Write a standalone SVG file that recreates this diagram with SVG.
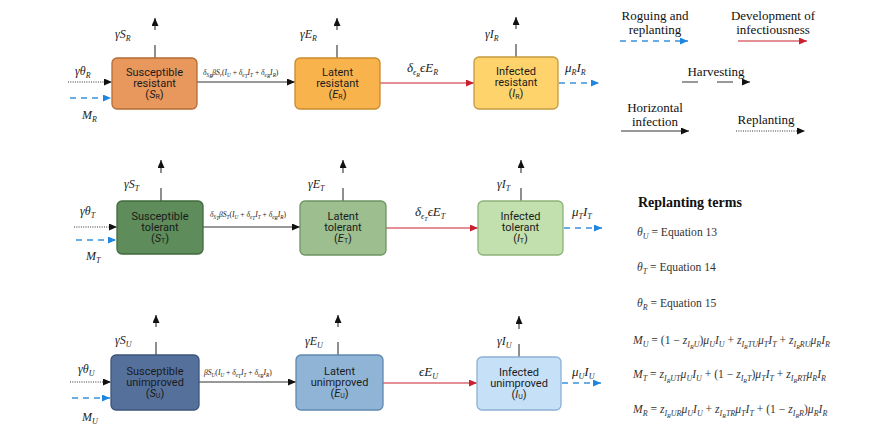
<svg xmlns="http://www.w3.org/2000/svg" width="885" height="432" viewBox="0 0 885 432">
<defs>
<style>
.box{stroke-width:1.3}
.bt{font-family:Roboto,"Liberation Sans",sans-serif;font-size:11px;fill:#1b1b1b;text-anchor:middle}
.m{font-family:"Liberation Serif",serif;fill:#222}
.i{font-style:italic}
.ml{font-size:12px}
.mb{font-size:13px}
.sm{font-size:8px}
.tiny{font-size:7.6px}
.t5{font-size:5.2px}
.lg{font-family:"Liberation Serif",serif;font-size:13px;fill:#111;text-anchor:middle}
.eq{font-family:"Liberation Serif",serif;font-size:11.6px;fill:#333}
.s8{font-size:8px}
.s6{font-size:6px}
.harv{stroke:#333;stroke-width:1.1;fill:none;stroke-dasharray:13 15 100;marker-end:url(#ak)}
.inf{stroke:#333;stroke-width:1.1;fill:none;marker-end:url(#ak)}
.dot{stroke:#333;stroke-width:1.1;fill:none;stroke-dasharray:1 1.3;marker-end:url(#ak)}
.blue{stroke:#3a93dd;stroke-width:1.3;fill:none;stroke-dasharray:6 5;marker-end:url(#ab)}
.red{stroke:#c8202c;stroke-width:1.2;fill:none;marker-end:url(#ar)}
</style>
<marker id="ak" markerUnits="userSpaceOnUse" markerWidth="9" markerHeight="8" refX="8" refY="3.5" orient="auto"><path d="M0,0 L8,3.5 L0,7 z" fill="#111"/></marker>
<marker id="ab" markerUnits="userSpaceOnUse" markerWidth="9" markerHeight="8" refX="8" refY="3.5" orient="auto"><path d="M0,0 L8,3.5 L0,7 z" fill="#1f86e0"/></marker>
<marker id="ar" markerUnits="userSpaceOnUse" markerWidth="9" markerHeight="8" refX="8" refY="3.5" orient="auto"><path d="M0,0 L8,3.5 L0,7 z" fill="#c8202c"/></marker>
</defs>
<rect width="885" height="432" fill="#fff"/>

<g id="connectors">
<line class="harv" x1="155" y1="58" x2="155" y2="18"/>
<line class="harv" x1="337" y1="58" x2="337" y2="18"/>
<line class="harv" x1="516" y1="57" x2="516" y2="17"/>
<line class="harv" x1="161" y1="201" x2="161" y2="160"/>
<line class="harv" x1="343" y1="201" x2="343" y2="160"/>
<line class="harv" x1="521" y1="201" x2="521" y2="160"/>
<line class="harv" x1="156" y1="355" x2="156" y2="315"/>
<line class="harv" x1="338" y1="355" x2="338" y2="315"/>
<line class="harv" x1="519" y1="357" x2="519" y2="316"/>
<line class="dot" x1="68" y1="82" x2="112" y2="82"/>
<line class="dot" x1="74" y1="227" x2="117" y2="227"/>
<line class="dot" x1="70" y1="382" x2="111" y2="382"/>
<line class="blue" x1="70" y1="98" x2="111" y2="98"/>
<line class="blue" x1="76" y1="240" x2="116" y2="240"/>
<line class="blue" x1="72" y1="398" x2="110" y2="398"/>
<line class="inf" x1="197" y1="82" x2="295" y2="82"/>
<line class="inf" x1="203" y1="227" x2="300" y2="227"/>
<line class="inf" x1="199" y1="382" x2="296" y2="382"/>
<line class="red" x1="380" y1="83" x2="474" y2="83"/>
<line class="red" x1="386" y1="228" x2="478" y2="228"/>
<line class="red" x1="383" y1="383" x2="477" y2="383"/>
<line class="blue" x1="559" y1="83" x2="599" y2="83"/>
<line class="blue" x1="564" y1="228" x2="602" y2="228"/>
<line class="blue" x1="562" y1="383" x2="601" y2="383"/>
</g>

<g id="labels" class="m">
<text class="ml" x="115" y="38"><tspan class="i">γS</tspan><tspan class="i sm" dy="3">R</tspan></text>
<text class="ml" x="300" y="38"><tspan class="i">γE</tspan><tspan class="i sm" dy="3">R</tspan></text>
<text class="ml" x="485" y="38"><tspan class="i">γI</tspan><tspan class="i sm" dy="3">R</tspan></text>
<text class="ml" x="75" y="75"><tspan class="i">γθ</tspan><tspan class="i sm" dy="3">R</tspan></text>
<text class="ml" x="82" y="119"><tspan class="i">M</tspan><tspan class="i sm" dy="3">R</tspan></text>
<text class="tiny" x="203" y="75"><tspan class="i">δ</tspan><tspan class="i t5" dy="2">S</tspan><tspan class="i t5" dy="1">R</tspan><tspan class="i" dy="-3">βS</tspan><tspan class="i t5" dy="2">r</tspan><tspan dy="-2">(</tspan><tspan class="i">I</tspan><tspan class="i t5" dy="2">U</tspan><tspan dy="-2"> + </tspan><tspan class="i">δ</tspan><tspan class="i t5" dy="2">e</tspan><tspan class="i t5" dy="1">T</tspan><tspan class="i" dy="-3">I</tspan><tspan class="i t5" dy="2">T</tspan><tspan dy="-2"> + </tspan><tspan class="i">δ</tspan><tspan class="i t5" dy="2">e</tspan><tspan class="i t5" dy="1">R</tspan><tspan class="i" dy="-3">I</tspan><tspan class="i t5" dy="2">R</tspan><tspan dy="-2">)</tspan></text>
<text class="mb" x="407" y="72"><tspan class="i">δ</tspan><tspan class="i sm" dy="3">ϵ</tspan><tspan class="i" font-size="6" dy="2">R</tspan><tspan class="i" dy="-5">ϵE</tspan><tspan class="i sm" dy="3">R</tspan></text>
<text class="mb" x="565" y="72"><tspan class="i">μ</tspan><tspan class="i sm" dy="3">R</tspan><tspan class="i" dy="-3">I</tspan><tspan class="i sm" dy="3">R</tspan></text>

<text class="ml" x="124" y="188"><tspan class="i">γS</tspan><tspan class="i sm" dy="3">T</tspan></text>
<text class="ml" x="308" y="188"><tspan class="i">γE</tspan><tspan class="i sm" dy="3">T</tspan></text>
<text class="ml" x="497" y="188"><tspan class="i">γI</tspan><tspan class="i sm" dy="3">T</tspan></text>
<text class="ml" x="80" y="215"><tspan class="i">γθ</tspan><tspan class="i sm" dy="3">T</tspan></text>
<text class="ml" x="86" y="260"><tspan class="i">M</tspan><tspan class="i sm" dy="3">T</tspan></text>
<text class="tiny" x="210" y="217"><tspan class="i">δ</tspan><tspan class="i t5" dy="2">S</tspan><tspan class="i t5" dy="1">T</tspan><tspan class="i" dy="-3">βS</tspan><tspan class="i t5" dy="2">T</tspan><tspan dy="-2">(</tspan><tspan class="i">I</tspan><tspan class="i t5" dy="2">U</tspan><tspan dy="-2"> + </tspan><tspan class="i">δ</tspan><tspan class="i t5" dy="2">e</tspan><tspan class="i t5" dy="1">T</tspan><tspan class="i" dy="-3">I</tspan><tspan class="i t5" dy="2">T</tspan><tspan dy="-2"> + </tspan><tspan class="i">δ</tspan><tspan class="i t5" dy="2">e</tspan><tspan class="i t5" dy="1">R</tspan><tspan class="i" dy="-3">I</tspan><tspan class="i t5" dy="2">R</tspan><tspan dy="-2">)</tspan></text>
<text class="mb" x="415" y="216"><tspan class="i">δ</tspan><tspan class="i sm" dy="3">ϵ</tspan><tspan class="i" font-size="6" dy="2">T</tspan><tspan class="i" dy="-5">ϵE</tspan><tspan class="i sm" dy="3">T</tspan></text>
<text class="mb" x="572" y="216"><tspan class="i">μ</tspan><tspan class="i sm" dy="3">T</tspan><tspan class="i" dy="-3">I</tspan><tspan class="i sm" dy="3">T</tspan></text>

<text class="ml" x="115" y="344"><tspan class="i">γS</tspan><tspan class="i sm" dy="3">U</tspan></text>
<text class="ml" x="305" y="345"><tspan class="i">γE</tspan><tspan class="i sm" dy="3">U</tspan></text>
<text class="ml" x="497" y="345"><tspan class="i">γI</tspan><tspan class="i sm" dy="3">U</tspan></text>
<text class="ml" x="78" y="373"><tspan class="i">γθ</tspan><tspan class="i sm" dy="3">U</tspan></text>
<text class="ml" x="82" y="421"><tspan class="i">M</tspan><tspan class="i sm" dy="3">U</tspan></text>
<text class="tiny" x="204" y="375"><tspan class="i">βS</tspan><tspan class="i t5" dy="2">U</tspan><tspan dy="-2">(</tspan><tspan class="i">I</tspan><tspan class="i t5" dy="2">U</tspan><tspan dy="-2"> + </tspan><tspan class="i">δ</tspan><tspan class="i t5" dy="2">e</tspan><tspan class="i t5" dy="1">T</tspan><tspan class="i" dy="-3">I</tspan><tspan class="i t5" dy="2">T</tspan><tspan dy="-2"> + </tspan><tspan class="i">δ</tspan><tspan class="i t5" dy="2">e</tspan><tspan class="i t5" dy="1">R</tspan><tspan class="i" dy="-3">I</tspan><tspan class="i t5" dy="2">R</tspan><tspan dy="-2">)</tspan></text>
<text class="mb" x="419" y="376"><tspan class="i">ϵE</tspan><tspan class="i sm" dy="3">U</tspan></text>
<text class="mb" x="572" y="376"><tspan class="i">μ</tspan><tspan class="i sm" dy="3">U</tspan><tspan class="i" dy="-3">I</tspan><tspan class="i sm" dy="3">U</tspan></text>
</g>

<g id="S_R"><rect class="box" x="112" y="58" width="85" height="51" rx="5" fill="#e8975d" stroke="#b56c36"/>
<text class="bt" x="154.5" y="75.5">Susceptible<tspan x="154.5" dy="11">resistant</tspan><tspan x="154.5" dy="11">(<tspan font-style="italic">S</tspan><tspan font-size="7" dy="1.5">R</tspan><tspan dy="-1.5">)</tspan></tspan></text></g>
<g id="E_R"><rect class="box" x="295" y="58" width="85" height="51" rx="5" fill="#f8b34c" stroke="#c98a2a"/>
<text class="bt" x="337.5" y="75.5">Latent<tspan x="337.5" dy="11">resistant</tspan><tspan x="337.5" dy="11">(<tspan font-style="italic">E</tspan><tspan font-size="7" dy="1.5">R</tspan><tspan dy="-1.5">)</tspan></tspan></text></g>
<g id="I_R"><rect class="box" x="474" y="57" width="84" height="52" rx="5" fill="#fed36c" stroke="#c49a3e"/>
<text class="bt" x="516" y="75">Infected<tspan x="516" dy="11">resistant</tspan><tspan x="516" dy="11">(<tspan font-style="italic">I</tspan><tspan font-size="7" dy="1.5">R</tspan><tspan dy="-1.5">)</tspan></tspan></text></g>

<g id="S_T"><rect class="box" x="117" y="201" width="86" height="53" rx="5" fill="#5e8c5a" stroke="#3f6a3d"/>
<text class="bt" x="160" y="219.5">Susceptible<tspan x="160" dy="11">tolerant</tspan><tspan x="160" dy="11">(<tspan font-style="italic">S</tspan><tspan font-size="7" dy="1.5">T</tspan><tspan dy="-1.5">)</tspan></tspan></text></g>
<g id="E_T"><rect class="box" x="300" y="201" width="86" height="54" rx="5" fill="#9dbe8f" stroke="#6e9464"/>
<text class="bt" x="343" y="219.5">Latent<tspan x="343" dy="11">tolerant</tspan><tspan x="343" dy="11">(<tspan font-style="italic">E</tspan><tspan font-size="7" dy="1.5">T</tspan><tspan dy="-1.5">)</tspan></tspan></text></g>
<g id="I_T"><rect class="box" x="478" y="201" width="85" height="54" rx="5" fill="#c2dfae" stroke="#8db27a"/>
<text class="bt" x="520.5" y="219.5">Infected<tspan x="520.5" dy="11">tolerant</tspan><tspan x="520.5" dy="11">(<tspan font-style="italic">I</tspan><tspan font-size="7" dy="1.5">T</tspan><tspan dy="-1.5">)</tspan></tspan></text></g>

<g id="S_U"><rect class="box" x="111" y="355" width="88" height="55" rx="5" fill="#55719b" stroke="#3b5479"/>
<text class="bt" x="155" y="374.5">Susceptible<tspan x="155" dy="11">unimproved</tspan><tspan x="155" dy="11">(<tspan font-style="italic">S</tspan><tspan font-size="7" dy="1.5">U</tspan><tspan dy="-1.5">)</tspan></tspan></text></g>
<g id="E_U"><rect class="box" x="296" y="355" width="87" height="55" rx="5" fill="#8fb4d6" stroke="#5f89b0"/>
<text class="bt" x="339.5" y="374.5">Latent<tspan x="339.5" dy="11">unimproved</tspan><tspan x="339.5" dy="11">(<tspan font-style="italic">E</tspan><tspan font-size="7" dy="1.5">U</tspan><tspan dy="-1.5">)</tspan></tspan></text></g>
<g id="I_U"><rect class="box" x="477" y="357" width="84" height="53" rx="5" fill="#c6e0f7" stroke="#8db0d3"/>
<text class="bt" x="519" y="375.5">Infected<tspan x="519" dy="11">unimproved</tspan><tspan x="519" dy="11">(<tspan font-style="italic">I</tspan><tspan font-size="7" dy="1.5">U</tspan><tspan dy="-1.5">)</tspan></tspan></text></g>

<g id="legend">
<text class="lg" x="655" y="20">Roguing and<tspan x="655" dy="14">replanting</tspan></text>
<line class="blue" x1="620" y1="41" x2="688" y2="41"/>
<text class="lg" x="773" y="20">Development of<tspan x="773" dy="14">infectiousness</tspan></text>
<line class="red" x1="738" y1="41" x2="807" y2="41"/>
<text class="lg" x="716" y="76">Harvesting</text>
<line x1="682" y1="82" x2="750" y2="82" stroke="#333" stroke-width="1.1" stroke-dasharray="16 19 16 10 30" marker-end="url(#ak)"/>
<text class="lg" x="655" y="112">Horizontal<tspan x="655" dy="14">infection</tspan></text>
<line class="inf" x1="621" y1="131" x2="689" y2="131"/>
<text class="lg" x="766" y="124">Replanting</text>
<line class="dot" x1="736" y1="131" x2="805" y2="131"/>
</g>

<g id="replanting-terms">
<text x="638" y="207" font-family="Liberation Serif,serif" font-size="14" font-weight="bold" fill="#111">Replanting terms</text>
<text class="eq" x="637" y="236"><tspan class="i">θ</tspan><tspan class="i s8" dy="3">U</tspan><tspan dy="-3"> = Equation 13</tspan></text>
<text class="eq" x="637" y="271"><tspan class="i">θ</tspan><tspan class="i s8" dy="3">T</tspan><tspan dy="-3"> = Equation 14</tspan></text>
<text class="eq" x="637" y="307"><tspan class="i">θ</tspan><tspan class="i s8" dy="3">R</tspan><tspan dy="-3"> = Equation 15</tspan></text>

<text class="eq" x="633" y="344"><tspan class="i">M</tspan><tspan class="i s8" dy="3">U</tspan><tspan dy="-3"> = (1 − </tspan><tspan class="i">z</tspan><tspan class="i s8" dy="3">I</tspan><tspan class="i s6" dy="2">R</tspan><tspan class="i s8" dy="-2">U</tspan><tspan dy="-3">)</tspan><tspan class="i">μ</tspan><tspan class="i s8" dy="3">U</tspan><tspan class="i" dy="-3">I</tspan><tspan class="i s8" dy="3">U</tspan><tspan dy="-3"> + </tspan><tspan class="i">z</tspan><tspan class="i s8" dy="3">I</tspan><tspan class="i s6" dy="2">R</tspan><tspan class="i s8" dy="-2">TU</tspan><tspan class="i" dy="-3">μ</tspan><tspan class="i s8" dy="3">T</tspan><tspan class="i" dy="-3">I</tspan><tspan class="i s8" dy="3">T</tspan><tspan dy="-3"> + </tspan><tspan class="i">z</tspan><tspan class="i s8" dy="3">I</tspan><tspan class="i s6" dy="2">R</tspan><tspan class="i s8" dy="-2">RU</tspan><tspan class="i" dy="-3">μ</tspan><tspan class="i s8" dy="3">R</tspan><tspan class="i" dy="-3">I</tspan><tspan class="i s8" dy="3">R</tspan></text>

<text class="eq" x="633" y="378"><tspan class="i">M</tspan><tspan class="i s8" dy="3">T</tspan><tspan dy="-3"> = </tspan><tspan class="i">z</tspan><tspan class="i s8" dy="3">I</tspan><tspan class="i s6" dy="2">R</tspan><tspan class="i s8" dy="-2">UT</tspan><tspan class="i" dy="-3">μ</tspan><tspan class="i s8" dy="3">U</tspan><tspan class="i" dy="-3">I</tspan><tspan class="i s8" dy="3">U</tspan><tspan dy="-3"> + (1 − </tspan><tspan class="i">z</tspan><tspan class="i s8" dy="3">I</tspan><tspan class="i s6" dy="2">R</tspan><tspan class="i s8" dy="-2">T</tspan><tspan dy="-3">)</tspan><tspan class="i">μ</tspan><tspan class="i s8" dy="3">T</tspan><tspan class="i" dy="-3">I</tspan><tspan class="i s8" dy="3">T</tspan><tspan dy="-3"> + </tspan><tspan class="i">z</tspan><tspan class="i s8" dy="3">I</tspan><tspan class="i s6" dy="2">R</tspan><tspan class="i s8" dy="-2">RT</tspan><tspan class="i" dy="-3">μ</tspan><tspan class="i s8" dy="3">R</tspan><tspan class="i" dy="-3">I</tspan><tspan class="i s8" dy="3">R</tspan></text>

<text class="eq" x="633" y="413"><tspan class="i">M</tspan><tspan class="i s8" dy="3">R</tspan><tspan dy="-3"> = </tspan><tspan class="i">z</tspan><tspan class="i s8" dy="3">I</tspan><tspan class="i s6" dy="2">R</tspan><tspan class="i s8" dy="-2">UR</tspan><tspan class="i" dy="-3">μ</tspan><tspan class="i s8" dy="3">U</tspan><tspan class="i" dy="-3">I</tspan><tspan class="i s8" dy="3">U</tspan><tspan dy="-3"> + </tspan><tspan class="i">z</tspan><tspan class="i s8" dy="3">I</tspan><tspan class="i s6" dy="2">R</tspan><tspan class="i s8" dy="-2">TR</tspan><tspan class="i" dy="-3">μ</tspan><tspan class="i s8" dy="3">T</tspan><tspan class="i" dy="-3">I</tspan><tspan class="i s8" dy="3">T</tspan><tspan dy="-3"> + (1 − </tspan><tspan class="i">z</tspan><tspan class="i s8" dy="3">I</tspan><tspan class="i s6" dy="2">R</tspan><tspan class="i s8" dy="-2">R</tspan><tspan dy="-3">)</tspan><tspan class="i">μ</tspan><tspan class="i s8" dy="3">R</tspan><tspan class="i" dy="-3">I</tspan><tspan class="i s8" dy="3">R</tspan></text>
</g>
</svg>
